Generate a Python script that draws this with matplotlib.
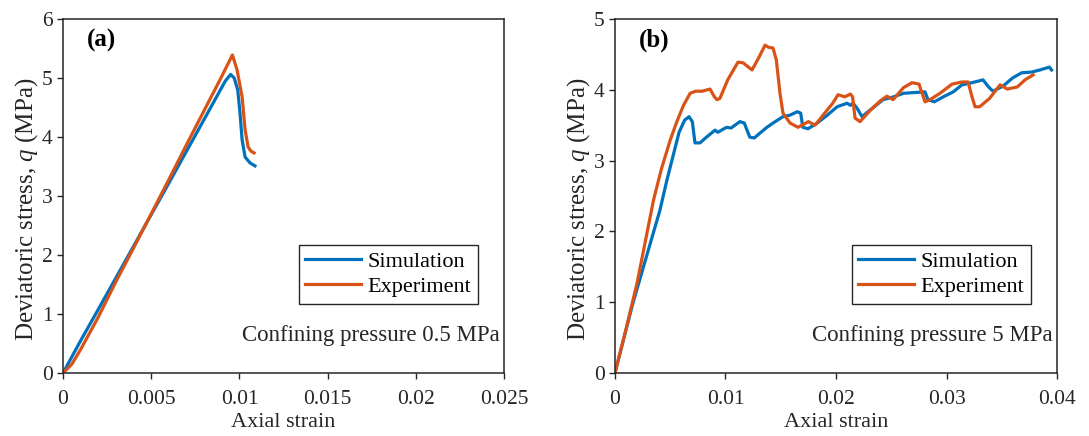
import matplotlib
matplotlib.use("Agg")
import matplotlib.pyplot as plt

plt.rcParams["font.family"] = ["Liberation Serif", "DejaVu Serif"]
plt.rcParams["mathtext.fontset"] = "custom"
plt.rcParams["mathtext.rm"] = "Liberation Serif"
plt.rcParams["mathtext.it"] = "Liberation Serif:italic"
plt.rcParams["font.size"] = 16

BLUE = "#0072BD"
ORANGE = "#D95319"
DARK = "#262626"

# panel (a): confining pressure 0.5 MPa
sim_a_strain = [0, 0.001, 0.002, 0.004, 0.006, 0.008, 0.0092, 0.0095, 0.0097,
                0.0099, 0.01003, 0.01015, 0.01032, 0.0106, 0.01088]
sim_a_q = [0, 0.55, 1.08, 2.15, 3.22, 4.30, 4.95, 5.06, 5.0,
           4.8, 4.41, 3.95, 3.66, 3.56, 3.51]
exp_a_strain = [0, 0.0005, 0.001, 0.002, 0.003, 0.004, 0.005, 0.006, 0.007,
                0.008, 0.009, 0.0096, 0.00986, 0.01015, 0.01032, 0.01049,
                0.01065, 0.01083]
exp_a_q = [0, 0.15, 0.40, 0.95, 1.55, 2.12, 2.70, 3.28, 3.87,
           4.45, 5.03, 5.39, 5.14, 4.68, 4.12, 3.83, 3.76, 3.73]

# panel (b): confining pressure 5 MPa
sim_b_strain = [0, 0.00163, 0.00407, 0.00471, 0.0058, 0.0063, 0.0067, 0.0070,
                0.00724, 0.0077, 0.0082, 0.00905, 0.0093, 0.0101, 0.0105, 0.0113,
                0.0117, 0.0122, 0.0126, 0.01375, 0.0143, 0.0152, 0.0158, 0.0165,
                0.0168, 0.0170, 0.01747, 0.0183, 0.0192, 0.0201, 0.0210, 0.0213,
                0.02154, 0.0219, 0.02235, 0.0233, 0.02425, 0.0252, 0.0261, 0.0270,
                0.02805, 0.02832, 0.0289, 0.0297, 0.0306, 0.0314, 0.0323, 0.0333,
                0.0338, 0.0342, 0.0351, 0.0360, 0.0368, 0.0377, 0.03846, 0.0393,
                0.0395]
sim_b_q = [0, 0.99, 2.30, 2.73, 3.40, 3.57, 3.62, 3.55,
           3.25, 3.25, 3.32, 3.43, 3.40, 3.47, 3.46, 3.55,
           3.53, 3.33, 3.32, 3.47, 3.53, 3.62, 3.64, 3.69,
           3.67, 3.47, 3.45, 3.53, 3.64, 3.76, 3.81, 3.78,
           3.81, 3.74, 3.62, 3.74, 3.86, 3.90, 3.95, 3.96,
           3.97, 3.86, 3.83, 3.90, 3.97, 4.07, 4.10, 4.14,
           4.04, 3.98, 4.05, 4.17, 4.24, 4.25, 4.28, 4.32,
           4.28]
exp_b_strain = [0, 0.001, 0.002, 0.0028, 0.0035, 0.0042, 0.005, 0.0056, 0.0062,
                0.0068, 0.0073, 0.0079, 0.0086, 0.0090, 0.00923, 0.0095, 0.0102,
                0.01113, 0.0116, 0.0124, 0.0130, 0.01358, 0.0139, 0.0143, 0.0146,
                0.01493, 0.0152, 0.01584, 0.01656, 0.0175, 0.0181, 0.01882, 0.0197,
                0.02018, 0.0208, 0.0213, 0.0215, 0.02172, 0.02217, 0.0231, 0.02398,
                0.0246, 0.02516, 0.0261, 0.02688, 0.02751, 0.02805, 0.0285, 0.0294,
                0.0305, 0.0314, 0.03195, 0.0323, 0.03258, 0.0330, 0.0339, 0.03484,
                0.0355, 0.0364, 0.0371, 0.03783]
exp_b_q = [0, 0.62, 1.27, 1.90, 2.45, 2.88, 3.29, 3.55, 3.78,
           3.95, 3.98, 3.98, 4.01, 3.90, 3.86, 3.88, 4.14,
           4.39, 4.38, 4.28, 4.45, 4.63, 4.60, 4.59, 4.42,
           3.95, 3.67, 3.53, 3.47, 3.55, 3.50, 3.64, 3.81,
           3.93, 3.90, 3.94, 3.90, 3.60, 3.55, 3.71, 3.84,
           3.91, 3.86, 4.03, 4.10, 4.08, 3.83, 3.86, 3.95,
           4.08, 4.11, 4.11, 3.90, 3.76, 3.76, 3.88, 4.07,
           4.01, 4.04, 4.14, 4.21]

xticks_a = [0, 0.005, 0.01, 0.015, 0.02, 0.025]
xticklabels_a = ["0", "0.005", "0.01", "0.015", "0.02", "0.025"]
xticks_b = [0, 0.01, 0.02, 0.03, 0.04]
xticklabels_b = ["0", "0.01", "0.02", "0.03", "0.04"]


def style_axes(ax):
    for sp in ax.spines.values():
        sp.set_color(DARK)
        sp.set_linewidth(1.1)
    ax.tick_params(direction="out", length=4, width=1.0, colors=DARK,
                   labelsize=15.5, labelcolor=DARK)
    ax.tick_params(axis="x", pad=8)


fig = plt.figure(figsize=(10.89, 4.36), dpi=100)
ax1 = fig.add_axes([0.0579, 0.1445, 0.405, 0.812])
ax2 = fig.add_axes([0.5647, 0.1445, 0.406, 0.812])

panels = [
    (ax1, sim_a_strain, sim_a_q, exp_a_strain, exp_a_q, xticks_a, xticklabels_a,
     6, "(a)", "Confining pressure 0.5 MPa"),
    (ax2, sim_b_strain, sim_b_q, exp_b_strain, exp_b_q, xticks_b, xticklabels_b,
     5, "(b)", "Confining pressure 5 MPa"),
]

for ax, xs, ys, xe, ye, xt, xtl, ymax, tag, note in panels:
    ax.plot(xs, ys, color=BLUE, lw=2.3, label="Simulation", solid_joinstyle="round")
    ax.plot(xe, ye, color=ORANGE, lw=2.3, label="Experiment", solid_joinstyle="round")
    ax.set_xlim(xt[0], xt[-1])
    ax.set_ylim(0, ymax)
    ax.set_xticks(xt)
    ax.set_xticklabels(xtl)
    ax.set_yticks(range(ymax + 1))
    ax.set_xlabel("Axial strain", fontsize=16, color=DARK, va="top")
    ax.xaxis.set_label_coords(0.5, -0.113)
    ax.set_ylabel("Deviatoric stress, $q$ (MPa)", fontsize=18, color=DARK,
                  va="center")
    ax.yaxis.set_label_coords(-0.083, 0.463)
    style_axes(ax)
    ax.text(0.055, 0.94, tag, transform=ax.transAxes, fontsize=18,
            fontweight="bold", ha="left", va="center", color="black")
    ax.text(0.99, 0.107, note, transform=ax.transAxes, fontsize=16.5,
            ha="right", va="center", color=DARK)
    leg = ax.legend(loc="upper right", bbox_to_anchor=(0.941, 0.362),
                    fontsize=16, fancybox=False, framealpha=1,
                    edgecolor=DARK, handlelength=2.5, handletextpad=0.3,
                    borderpad=0.3, labelspacing=0.2, borderaxespad=0)
    leg.get_frame().set_linewidth(1.0)

fig.savefig("out.png", dpi=100)
